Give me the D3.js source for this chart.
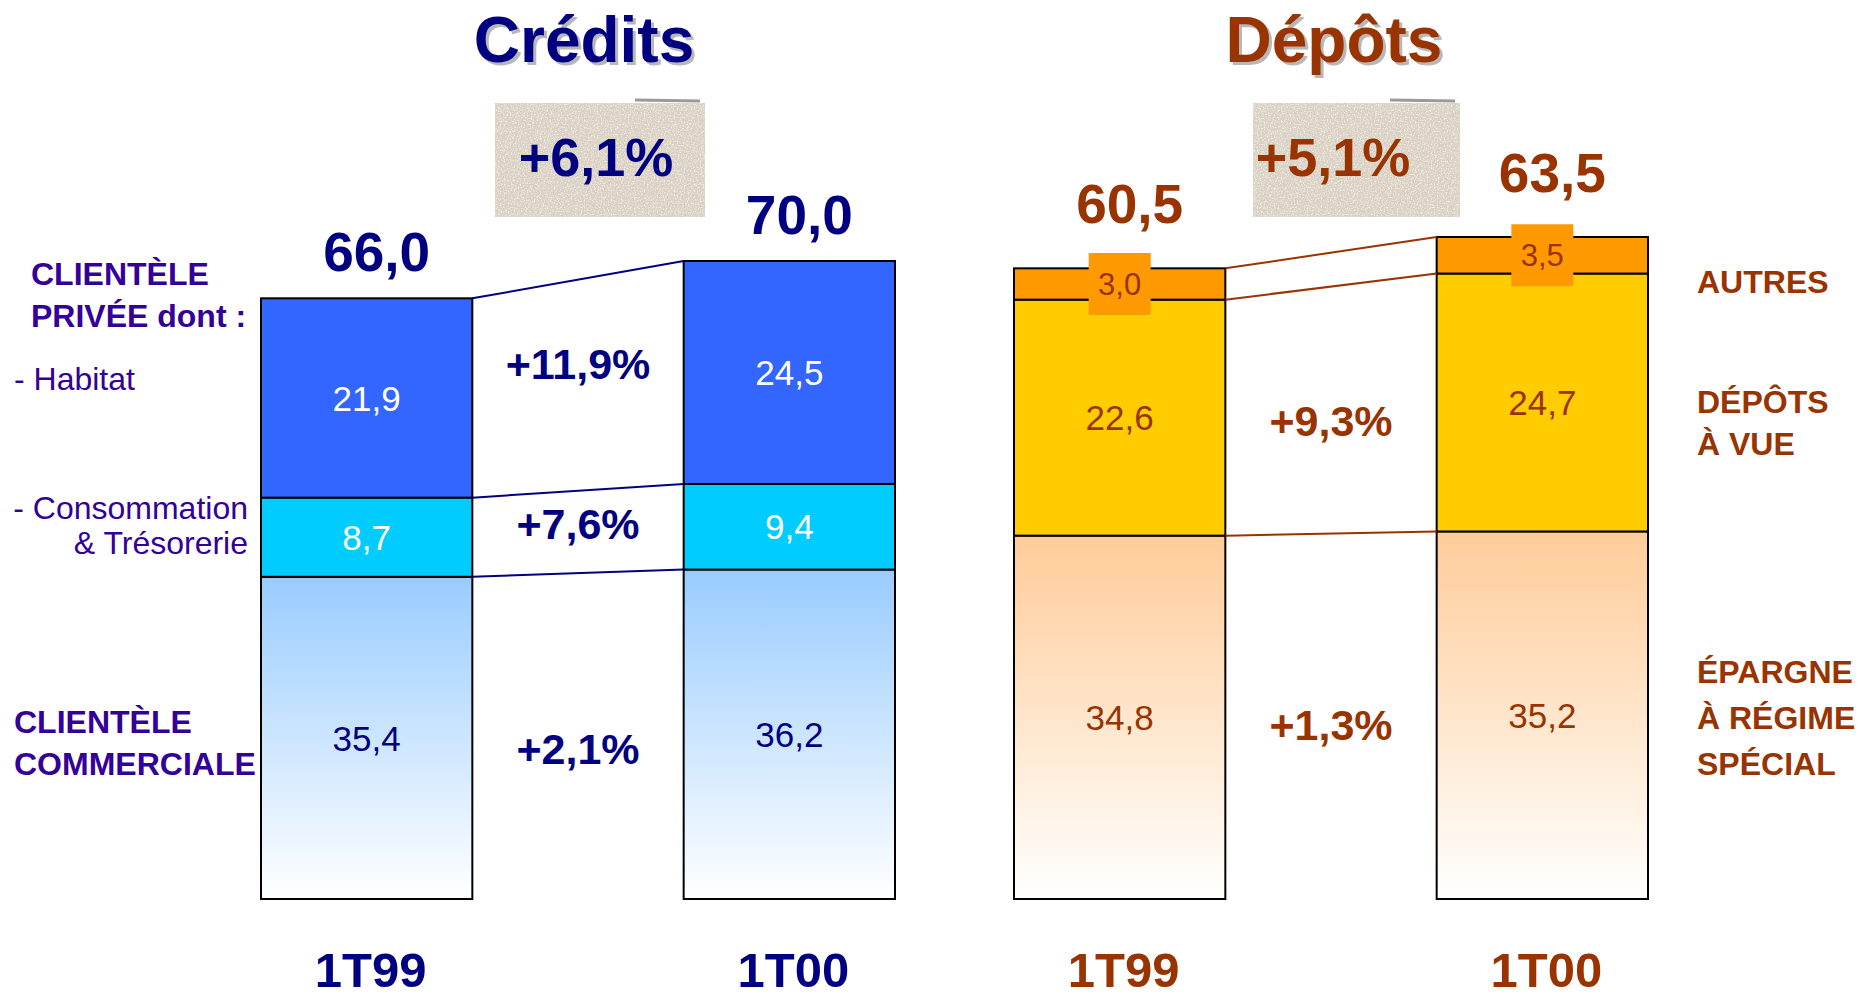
<!DOCTYPE html>
<html>
<head>
<meta charset="utf-8">
<script src="https://cdn.jsdelivr.net/npm/d3@7"></script>
<style>
  body { margin: 0; background: #fff; }
  svg { display: block; font-family: "Liberation Sans", Arial, sans-serif; }
</style>
</head>
<body>
<div id="chart"></div>
<script>
// Data
const periods = ["1T99", "1T00"];

const creditHabitat = [21.9, 24.5];
const creditConso = [8.7, 9.4];
const creditCommercial = [35.4, 36.2];
const creditTotals = ["66,0", "70,0"];
const creditGrowth = ["+11,9%", "+7,6%", "+2,1%"];   // habitat, conso, commercial
const creditTotalGrowth = "+6,1%";

const depotAutres = [3.0, 3.5];
const depotVue = [22.6, 24.7];
const depotEpargne = [34.8, 35.2];
const depotTotals = ["60,5", "63,5"];
const depotGrowth = ["+9,3%", "+1,3%"];              // à vue, épargne
const depotTotalGrowth = "+5,1%";

const fmt = v => d3.format(".1f")(v).replace(".", ",");

const width = 1858, height = 998;
const bottom = 899;

const svg = d3.select("#chart").append("svg")
    .attr("width", width)
    .attr("height", height);

const defs = svg.append("defs");

// gradients for bottom segments
function addGradient(id, top) {
    const g = defs.append("linearGradient").attr("id", id)
        .attr("x1", 0).attr("y1", 0).attr("x2", 0).attr("y2", 1);
    g.append("stop").attr("offset", "0%").attr("stop-color", top);
    g.append("stop").attr("offset", "100%").attr("stop-color", "#ffffff");
}
addGradient("gradBlue", "#99ccff");
addGradient("gradPeach", "#ffcc99");

// sandy speckle texture for the growth boxes
function addSpeckle(id, seed, freq, rgb, a, b) {
    const f = defs.append("filter").attr("id", id)
        .attr("x", 0).attr("y", 0).attr("width", 1).attr("height", 1);
    f.append("feTurbulence").attr("type", "fractalNoise")
        .attr("baseFrequency", freq).attr("numOctaves", 2).attr("seed", seed).attr("result", "n");
    f.append("feColorMatrix").attr("in", "n").attr("type", "matrix")
        .attr("values", `0 0 0 0 ${rgb[0]}  0 0 0 0 ${rgb[1]}  0 0 0 0 ${rgb[2]}  ${a} 0 0 0 ${b}`)
        .attr("result", "w");
    f.append("feComposite").attr("in", "w").attr("in2", "SourceGraphic").attr("operator", "in");
}
addSpeckle("sandDark", 7, 0.55, [0.62, 0.56, 0.47], 2.2, -1.05);
addSpeckle("sandLight", 3, 0.7, [0.97, 0.95, 0.91], 2.2, -1.0);

// Draw one stacked panel
function drawPanel(cfg) {
    const x = d3.scaleBand().domain(periods).range(cfg.xRange).paddingInner(0.5);
    const sums = periods.map((p, i) => d3.sum(cfg.layers, l => l.values[i]));
    const y = d3.scaleLinear().domain([0, d3.max(sums)]).range([bottom, cfg.topY]);

    const rows = periods.map((p, i) => {
        const r = { period: p };
        cfg.layers.forEach(l => r[l.key] = l.values[i]);
        return r;
    });
    const stack = d3.stack().keys(cfg.layers.map(l => l.key))(rows);

    const g = svg.append("g");

    // segments
    stack.forEach((layer, li) => {
        const info = cfg.layers[li];
        g.selectAll(null)
            .data(layer)
            .enter()
            .append("rect")
            .attr("x", d => x(d.data.period))
            .attr("y", d => y(d[1]))
            .attr("width", x.bandwidth())
            .attr("height", d => y(d[0]) - y(d[1]))
            .attr("fill", info.fill)
            .attr("stroke", "#000")
            .attr("stroke-width", 2);
    });

    // connector lines between bars
    const x0 = x(periods[0]) + x.bandwidth();
    const x1 = x(periods[1]);
    stack.forEach(layer => {
        g.append("line")
            .attr("x1", x0).attr("y1", y(layer[0][1]))
            .attr("x2", x1).attr("y2", y(layer[1][1]))
            .attr("stroke", cfg.lineColor)
            .attr("stroke-width", 2);
    });

    // value labels
    stack.forEach((layer, li) => {
        const info = cfg.layers[li];
        if (info.box) {
            g.selectAll(null)
                .data(layer)
                .enter()
                .append("rect")
                .attr("x", d => x(d.data.period) + x.bandwidth() / 2 - 31)
                .attr("y", d => y((d[0] + d[1]) / 2) - 31)
                .attr("width", 62)
                .attr("height", 62)
                .attr("fill", info.box);
        }
        g.selectAll(null)
            .data(layer)
            .enter()
            .append("text")
            .attr("x", d => x(d.data.period) + x.bandwidth() / 2)
            .attr("y", d => y((d[0] + d[1]) / 2))
            .attr("dy", "0.36em")
            .attr("text-anchor", "middle")
            .style("font-size", info.box ? "31px" : "35px")
            .attr("fill", info.text)
            .text(d => fmt(d[1] - d[0]));
    });

    // growth labels between bars
    cfg.growth.forEach(gr => {
        const li = cfg.layers.findIndex(l => l.key === gr.key);
        const layer = stack[li];
        const mid = (y((layer[0][0] + layer[0][1]) / 2) + y((layer[1][0] + layer[1][1]) / 2)) / 2;
        g.append("text")
            .attr("x", (x0 + x1) / 2)
            .attr("y", mid + gr.nudge)
            .attr("dy", "0.36em")
            .attr("text-anchor", "middle")
            .style("font-size", "43px")
            .style("font-weight", "bold")
            .attr("fill", cfg.color)
            .text(gr.label);
    });

    // totals above bars
    g.selectAll(null)
        .data(periods)
        .enter()
        .append("text")
        .attr("x", (d, i) => x(d) + x.bandwidth() / 2 + 10)
        .attr("y", (d, i) => y(sums[i]) - cfg.totalGap)
        .attr("text-anchor", "middle")
        .style("font-size", "55px")
        .style("font-weight", "bold")
        .attr("fill", cfg.color)
        .text((d, i) => cfg.totals[i]);

    // period labels
    g.selectAll(null)
        .data(periods)
        .enter()
        .append("text")
        .attr("x", d => x(d) + x.bandwidth() / 2 + 4)
        .attr("y", 987)
        .attr("text-anchor", "middle")
        .style("font-size", "49px")
        .style("font-weight", "bold")
        .attr("fill", cfg.color)
        .text(d => d);

    // title with shadow
    g.append("text")
        .attr("x", cfg.titleX + 3).attr("y", 65)
        .attr("text-anchor", "middle")
        .style("font-size", "64px").style("font-weight", "bold")
        .attr("fill", "#b8b8b8")
        .text(cfg.title);
    g.append("text")
        .attr("x", cfg.titleX).attr("y", 62)
        .attr("text-anchor", "middle")
        .style("font-size", "64px").style("font-weight", "bold")
        .attr("fill", cfg.color)
        .text(cfg.title);

    // total growth box
    const b = cfg.growthBox;
    g.append("line")
        .attr("x1", b.x + b.w - 70).attr("y1", b.y - 3)
        .attr("x2", b.x + b.w - 5).attr("y2", b.y - 2)
        .attr("stroke", "#9a9a9a").attr("stroke-width", 3);
    g.append("rect")
        .attr("x", b.x).attr("y", b.y).attr("width", b.w).attr("height", b.h)
        .attr("fill", "#dad2c4");
    ["sandDark", "sandLight"].forEach(fid => {
        g.append("rect")
            .attr("x", b.x).attr("y", b.y).attr("width", b.w).attr("height", b.h)
            .attr("fill", "#fff")
            .attr("filter", `url(#${fid})`);
    });
    g.append("text")
        .attr("x", b.tx).attr("y", b.y + 73)
        .attr("text-anchor", "middle")
        .style("font-size", "54px").style("font-weight", "bold")
        .attr("fill", cfg.color)
        .text(cfg.totalGrowth);
}

drawPanel({
    title: "Crédits",
    titleX: 584,
    color: "#000080",
    lineColor: "#000080",
    xRange: [261, 895],
    topY: 261,
    totalGap: 27,
    totals: creditTotals,
    totalGrowth: creditTotalGrowth,
    growthBox: { x: 495, y: 103, w: 210, h: 114, tx: 596 },
    layers: [
        { key: "commercial", values: creditCommercial, fill: "url(#gradBlue)", text: "#000080" },
        { key: "conso", values: creditConso, fill: "#00ccff", text: "#ffffff" },
        { key: "habitat", values: creditHabitat, fill: "#3366ff", text: "#ffffff" }
    ],
    growth: [
        { key: "habitat", label: creditGrowth[0], nudge: -22 },
        { key: "conso", label: creditGrowth[1], nudge: -8 },
        { key: "commercial", label: creditGrowth[2], nudge: 12 }
    ]
});

drawPanel({
    title: "Dépôts",
    titleX: 1334,
    color: "#993300",
    lineColor: "#993300",
    xRange: [1014, 1648],
    topY: 237,
    totalGap: 45,
    totals: depotTotals,
    totalGrowth: depotTotalGrowth,
    growthBox: { x: 1253, y: 103, w: 207, h: 114, tx: 1333 },
    layers: [
        { key: "epargne", values: depotEpargne, fill: "url(#gradPeach)", text: "#993300" },
        { key: "vue", values: depotVue, fill: "#ffcc00", text: "#993300" },
        { key: "autres", values: depotAutres, fill: "#ff9900", text: "#993300", box: "#ff9900" }
    ],
    growth: [
        { key: "vue", label: depotGrowth[0], nudge: 10 },
        { key: "epargne", label: depotGrowth[1], nudge: 8 }
    ]
});

// side labels
function addLabel(lines, x, y0, lh, opts) {
    const t = svg.append("text")
        .attr("x", x).attr("y", y0)
        .attr("text-anchor", opts.anchor || "start")
        .style("font-size", opts.size + "px")
        .style("font-weight", opts.bold ? "bold" : "normal")
        .attr("fill", opts.color);
    lines.forEach((l, i) => {
        t.append("tspan").attr("x", x).attr("y", y0 + i * lh).text(l);
    });
}

const violet = "#330099";
const brown = "#993300";
addLabel(["CLIENTÈLE", "PRIVÉE dont :"], 31, 285, 42, { size: 32, bold: true, color: violet });
addLabel(["- Habitat"], 14, 390, 0, { size: 32, color: violet });
addLabel(["- Consommation", "& Trésorerie"], 248, 519, 35, { size: 32, color: violet, anchor: "end" });
addLabel(["CLIENTÈLE", "COMMERCIALE"], 14, 733, 42, { size: 32, bold: true, color: violet });

addLabel(["AUTRES"], 1697, 293, 0, { size: 32, bold: true, color: brown });
addLabel(["DÉPÔTS", "À VUE"], 1697, 413, 42, { size: 32, bold: true, color: brown });
addLabel(["ÉPARGNE", "À RÉGIME", "SPÉCIAL"], 1697, 683, 46, { size: 32, bold: true, color: brown });
</script>
</body>
</html>
